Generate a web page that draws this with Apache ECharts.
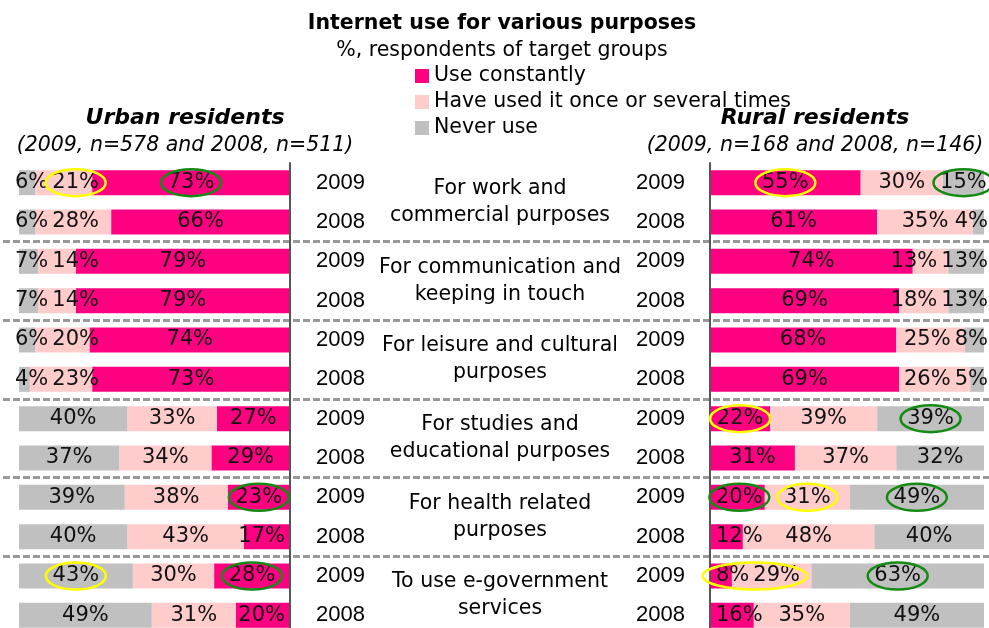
<!DOCTYPE html>
<html><head><meta charset="utf-8">
<script src="https://cdn.jsdelivr.net/npm/echarts@6/dist/echarts.min.js"></script>
<style>html,body{margin:0;padding:0;background:#fff}#c{width:989px;height:628px}</style>
</head><body><div id="c"></div>
<script>
// ---- data ----
const seriesNames = ['Use constantly', 'Have used it once or several times', 'Never use'];
const years = ['2009', '2008'];
const purposes = [
  'For work and\ncommercial purposes',
  'For communication and\nkeeping in touch',
  'For leisure and cultural\npurposes',
  'For studies and\neducational purposes',
  'For health related\npurposes',
  'To use e-government\nservices'
];
// rows: each purpose, 2009 then 2008
const urbanUse   = [73, 66, 79, 79, 74, 73, 27, 29, 23, 17, 28, 20];
const urbanOnce  = [21, 28, 14, 14, 20, 23, 33, 34, 38, 43, 30, 31];
const urbanNever = [6, 6, 7, 7, 6, 4, 40, 37, 39, 40, 43, 49];
const ruralUse   = [55, 61, 74, 69, 68, 69, 22, 31, 20, 12, 8, 16];
const ruralOnce  = [30, 35, 13, 18, 25, 26, 39, 37, 31, 48, 29, 35];
const ruralNever = [15, 4, 13, 13, 8, 5, 39, 32, 49, 40, 63, 49];
// highlighted labels: [panel, row, first series, last series, colour]
const highlights = [
  ['urban', 0, 1, 1, 'yellow'], ['urban', 0, 0, 0, 'green'],
  ['rural', 0, 0, 0, 'yellow'], ['rural', 0, 2, 2, 'green'],
  ['urban', 8, 0, 0, 'green'],
  ['urban', 10, 2, 2, 'yellow'], ['urban', 10, 0, 0, 'green'],
  ['rural', 6, 0, 0, 'yellow'], ['rural', 6, 2, 2, 'green'],
  ['rural', 8, 0, 0, 'green'], ['rural', 8, 1, 1, 'yellow'], ['rural', 8, 2, 2, 'green'],
  ['rural', 10, 0, 1, 'yellow'], ['rural', 10, 2, 2, 'green']
];

// ---- chart ----
const FONT = 'DejaVu Sans';
const LABEL_SIZE = 21;
const colors = ['#FF0080', '#FFCCCC', '#C0C0C0'];
const rowYears = purposes.flatMap(() => years);
const urban = [urbanUse, urbanOnce, urbanNever];
const rural = [ruralUse, ruralOnce, ruralNever];
const TOP = 163, H = 472;

const chart = echarts.init(document.getElementById('c'), null, {renderer: 'canvas'});

// label nudges (px) per global series index / row, filled after the axes exist
const nudges = [[], [], [], [], [], []];
const finalLabelX = [[], [], [], [], [], []];

function barSeries(values, idx, gi, stack) {
  return {
    type: 'bar', name: seriesNames[idx], stack: stack,
    xAxisIndex: gi, yAxisIndex: gi, data: values, barWidth: 25,
    itemStyle: {color: colors[idx]},
    label: {show: true, position: 'inside', formatter: p => p.value + '%',
            fontFamily: FONT, fontSize: LABEL_SIZE, color: '#111'},
    labelLayout: (p) => ({dx: (nudges[p.seriesIndex] || [])[p.dataIndex] || 0}),
    emphasis: {disabled: true}, animation: false
  };
}

const series = [];
urban.forEach((v, i) => series.push(barSeries(v, i, 0, 'urban')));
rural.forEach((v, i) => series.push(barSeries(v, i, 1, 'rural')));

const yearAxisLabel = {fontFamily: 'Liberation Sans', fontSize: 22, color: '#000'};
const gridBase = {top: TOP, height: H, outerBoundsMode: 'none', containLabel: false};

const option = {
  animation: false,
  backgroundColor: '#fff',
  legend: {
    data: seriesNames, orient: 'vertical', left: 415, top: 65, padding: 0,
    itemWidth: 14, itemHeight: 14, itemGap: 4, icon: 'rect', selectedMode: false,
    textStyle: {fontFamily: FONT, fontSize: 20.5, color: '#000', lineHeight: 22}
  },
  grid: [
    Object.assign({left: 19, width: 271}, gridBase),
    Object.assign({left: 710, width: 274}, gridBase),
    Object.assign({left: 3, width: 986}, gridBase),
    Object.assign({left: 500, width: 1}, gridBase)
  ],
  xAxis: [
    {gridIndex: 0, type: 'value', min: 0, max: 100, inverse: true, show: false},
    {gridIndex: 1, type: 'value', min: 0, max: 100, show: false},
    {gridIndex: 2, type: 'value', min: 0, max: 100, show: false},
    {gridIndex: 3, type: 'value', min: 0, max: 100, show: false}
  ],
  yAxis: [
    {gridIndex: 0, type: 'category', data: rowYears, inverse: true, position: 'right', z: 10,
     axisLine: {show: true, lineStyle: {color: '#555', width: 2}}, axisTick: {show: false},
     axisLabel: Object.assign({margin: 26, align: 'left'}, yearAxisLabel), splitLine: {show: false}},
    {gridIndex: 1, type: 'category', data: rowYears, inverse: true, position: 'left', z: 10,
     axisLine: {show: true, lineStyle: {color: '#555', width: 2}}, axisTick: {show: false},
     axisLabel: Object.assign({margin: 25, align: 'right'}, yearAxisLabel), splitLine: {show: false}},
    {gridIndex: 2, type: 'category', data: purposes, inverse: true,
     axisLine: {show: false}, axisTick: {show: false}, axisLabel: {show: false},
     splitLine: {show: true, interval: (i) => i > 0,
                 lineStyle: {color: '#999', width: 3, type: [7, 3]}}},
    {gridIndex: 3, type: 'category', data: purposes, inverse: true, position: 'left',
     axisLine: {show: false}, axisTick: {show: false}, splitLine: {show: false},
     axisLabel: {margin: 0, align: 'center', fontFamily: FONT, fontSize: 20.5,
                 lineHeight: 27, color: '#000'}}
  ],
  series: series
};
chart.setOption(option);

// ---- keep crowded labels apart (like the hand-placed labels of the original) ----
const ctx = document.createElement('canvas').getContext('2d');
ctx.font = LABEL_SIZE + 'px "' + FONT + '"';
const GAP = 4;
function layoutPanel(gi, sets, sOff, axisOnLeft) {
  const px = (v, row) => chart.convertToPixel({gridIndex: gi}, [v, row])[0];
  for (let row = 0; row < sets[0].length; row++) {
    const axisX = px(0, row), outerX = px(100, row);
    let cum = 0;
    const items = sets.map((arr, k) => {
      const a = Math.min(cum, 100), b = Math.min(cum + arr[row], 100);
      cum += arr[row];
      const c = px((a + b) / 2, row);
      const w = ctx.measureText(arr[row] + '%').width;
      return {k: k, c: c, w: w, s: c - w / 2};
    }).sort((p, q) => p.c - q.c);
    const lo = axisOnLeft ? axisX + 6 : outerX - 4;
    const hi = axisOnLeft ? outerX + 4 : axisX - 5;
    const passLR = () => { let m = lo; items.forEach(it => { if (it.s < m) it.s = m; m = it.s + it.w + GAP; }); };
    const passRL = () => { let m = hi; for (let i = items.length - 1; i >= 0; i--) { const it = items[i]; if (it.s + it.w > m) it.s = m - it.w; m = it.s - GAP; } };
    if (axisOnLeft) { passLR(); passRL(); } else { passRL(); passLR(); }
    items.forEach(it => {
      nudges[sOff + it.k][row] = it.s + it.w / 2 - it.c;
      finalLabelX[sOff + it.k][row] = it.s + it.w / 2;
    });
  }
}
layoutPanel(0, urban, 0, false);
layoutPanel(1, rural, 3, true);

// ---- text and highlight rings ----
const texts = [
  {type: 'text', x: 502, y: 24, style: {text: 'Internet use for various purposes', font: 'bold 20.5px "DejaVu Sans"', fill: '#000', textAlign: 'center', textVerticalAlign: 'middle'}},
  {type: 'text', x: 502, y: 51, style: {text: '%, respondents of target groups', font: '20.5px "DejaVu Sans"', fill: '#000', textAlign: 'center', textVerticalAlign: 'middle'}},
  {type: 'text', x: 185, y: 118, style: {text: 'Urban residents', font: 'italic bold 22px "DejaVu Sans"', fill: '#000', textAlign: 'center', textVerticalAlign: 'middle'}},
  {type: 'text', x: 185, y: 146, style: {text: '(2009, n=578 and 2008, n=511)', font: 'italic 20.5px "DejaVu Sans"', fill: '#000', textAlign: 'center', textVerticalAlign: 'middle'}},
  {type: 'text', x: 815, y: 118, style: {text: 'Rural residents', font: 'italic bold 22px "DejaVu Sans"', fill: '#000', textAlign: 'center', textVerticalAlign: 'middle'}},
  {type: 'text', x: 815, y: 146, style: {text: '(2009, n=168 and 2008, n=146)', font: 'italic 20.5px "DejaVu Sans"', fill: '#000', textAlign: 'center', textVerticalAlign: 'middle'}}
];

const ringColors = {yellow: '#FFFF00', green: '#138A13'};
const rings = highlights.map(([panel, row, s0, s1, col]) => {
  const gi = panel === 'urban' ? 0 : 1;
  const sOff = panel === 'urban' ? 0 : 3;
  const x0 = finalLabelX[sOff + s0][row], x1 = finalLabelX[sOff + s1][row];
  const cy = chart.convertToPixel({gridIndex: gi}, [0, row])[1];
  const cx = (x0 + x1) / 2;
  const rx = Math.abs(x1 - x0) / 2 + 30;
  return {type: 'ellipse', z: 100, silent: true,
          shape: {cx: cx, cy: cy, rx: rx, ry: 13.5},
          style: {fill: 'none', stroke: ringColors[col], lineWidth: 2.5}};
});

chart.setOption({graphic: {elements: texts.concat(rings)}});
</script></body></html>
